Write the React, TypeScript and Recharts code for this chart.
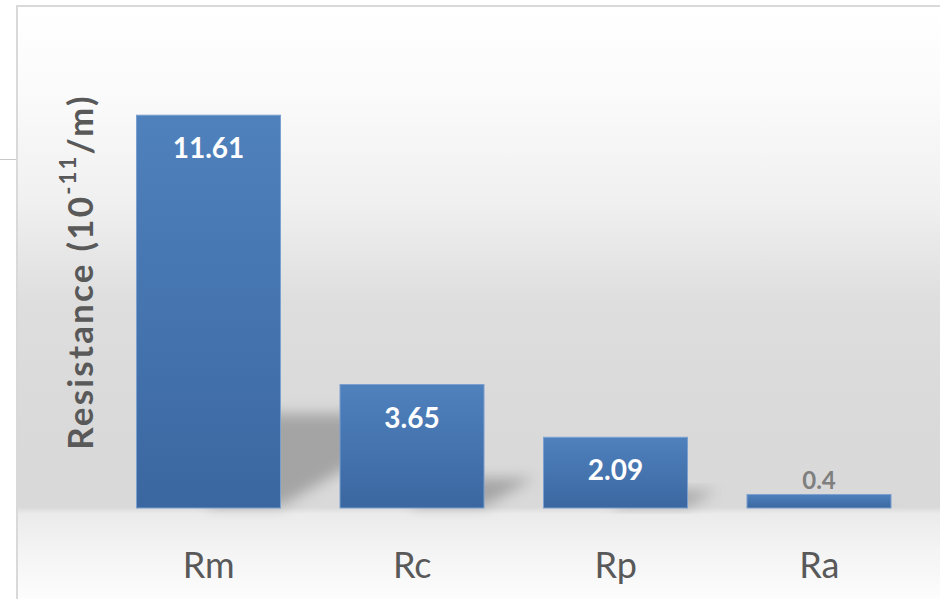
import React from "react";
import { BarChart, Bar, XAxis, YAxis, LabelList } from "recharts";

// ─── Data ─────────────────────────────────────────────────────────────────────

const categories = ["Rm", "Rc", "Rp", "Ra"];
const resistance = [11.61, 3.65, 2.09, 0.4];
const yLabelMain = "Resistance (10";
const yLabelSup = "-11";
const yLabelTail = "/m)";

const data = categories.map((name, i) => ({ name, value: resistance[i] }));

const FONT = "Lato, 'Open Sans', sans-serif";

// ─── Bar with soft cast shadow ────────────────────────────────────────────────

const ShadowBar = (props: any) => {
  const { x, y, width, height } = props;
  const bottom = y + height;
  const sh = height * 0.24;
  const run = sh / 0.59;
  const pts = [
    [x + width * 0.5, bottom - 2],
    [x + width, bottom - 2],
    [x + width + run, bottom - sh],
    [x + width * 0.5, bottom - sh],
  ]
    .map((p) => p.join(","))
    .join(" ");
  return (
    <g>
      <polygon points={pts} fill="#707070" opacity={0.5} filter="url(#barShadowBlur)" />
      <rect x={x} y={y} width={width} height={height} fill="url(#barFill)" stroke="#7b9fcf" strokeWidth={1} />
    </g>
  );
};

// ─── Value label: inside for tall bars, above for short ones ─────────────────

const ValueLabel = (props: any) => {
  const { x, y, width, height, value } = props;
  const inside = height > 40;
  return (
    <text
      x={x + width / 2}
      y={inside ? y + 43 : y - 5}
      textAnchor="middle"
      fontFamily={FONT}
      fontWeight={700}
      fontSize={inside ? 28 : 24}
      fill={inside ? "#ffffff" : "#7f7f7f"}
    >
      {value}
    </text>
  );
};

const YTitle = (props: any) => {
  const { viewBox } = props;
  const cx = viewBox.x + 79;
  const cy = viewBox.y + viewBox.height / 2 - 33;
  return (
    <text
      transform={`translate(${cx},${cy}) rotate(-90)`}
      textAnchor="middle"
      dominantBaseline="central"
      fontFamily={FONT}
      fontWeight={700}
      fontSize={35}
      letterSpacing={2.2}
      fill="#595959"
    >
      {yLabelMain}
      <tspan fontSize={22} dy={-12}>{yLabelSup}</tspan>
      <tspan dy={12}>{yLabelTail}</tspan>
    </text>
  );
};

// ─── Component ────────────────────────────────────────────────────────────────

export default function App() {
  return (
    <div style={{ position: "fixed", left: 0, top: 0, width: 940, height: 599, overflow: "hidden", background: "#ffffff" }}>
      <div style={{ position: "absolute", left: 0, top: 159, width: 16, height: 1, background: "#c9c9c9" }} />
      <div
        style={{
          position: "absolute",
          left: 16,
          top: 5,
          width: 940,
          height: 600,
          borderLeft: "2px solid #d9d9d9",
          borderTop: "2px solid #d9d9d9",
          background:
            "linear-gradient(to bottom, #ffffff 0px, #fafafa 95px, #f0f0f0 195px, #dedede 295px, #dadada 395px, #d9d9d9 500px, #ebebeb 507px, #f4f4f4 545px, #fdfdfd 594px)",
        }}
      />
      <div style={{ position: "absolute", left: 0, top: 0 }}>
        <BarChart
          width={940}
          height={599}
          data={data}
          margin={{ top: 102, right: 19, left: 0, bottom: 0 }}
          barCategoryGap="14.5%"
        >
          <defs>
            <linearGradient id="barFill" x1="0" y1="0" x2="0" y2="1">
              <stop offset="0%" stopColor="#4f81bd" />
              <stop offset="100%" stopColor="#3b67a0" />
            </linearGradient>
            <filter id="barShadowBlur" x="-50%" y="-50%" width="200%" height="200%">
              <feGaussianBlur stdDeviation="7" />
            </filter>
          </defs>
          <XAxis
            dataKey="name"
            height={91}
            axisLine={false}
            tickLine={false}
            tick={{ fontFamily: FONT, fontSize: 36, fill: "#595959" }}
            dy={36}
          />
          <YAxis
            width={107}
            domain={[0, 12]}
            tick={false}
            axisLine={false}
            tickLine={false}
            label={<YTitle />}
          />
          <Bar dataKey="value" shape={<ShadowBar />} isAnimationActive={false}>
            <LabelList dataKey="value" content={<ValueLabel />} />
          </Bar>
        </BarChart>
      </div>
    </div>
  );
}
